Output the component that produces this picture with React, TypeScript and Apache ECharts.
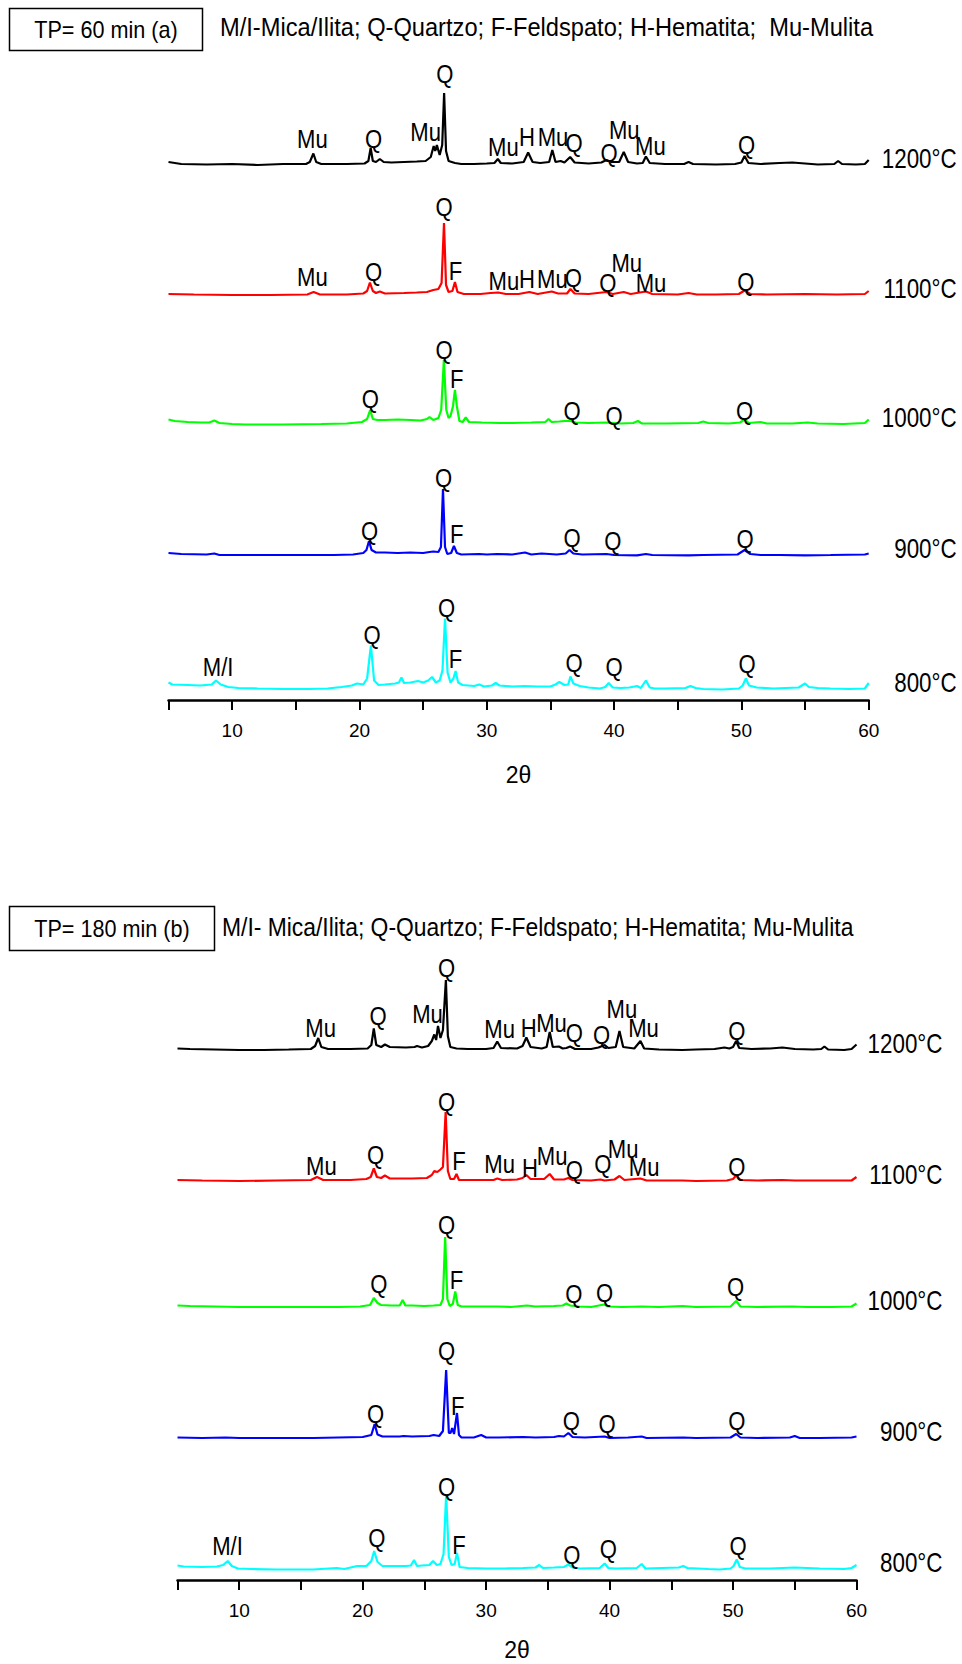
import React, { useEffect, useRef } from 'react';
import * as echarts from 'echarts';

type Pt = [number, number];
type Ann = [number, number, string];

const FONT = "'Liberation Sans', Arial, Helvetica, sans-serif";

const temperatures = ['1200°C', '1100°C', '1000°C', '900°C', '800°C'];
const colors = ['#000000', '#ff0000', '#00ff00', '#0000ff', '#00ffff'];
const xTickLabels = [10, 20, 30, 40, 50, 60];
const titleA = 'M/I-Mica/Ilita; Q-Quartzo; F-Feldspato; H-Hematita;  Mu-Mulita';
const titleB = 'M/I- Mica/Ilita; Q-Quartzo; F-Feldspato; H-Hematita; Mu-Mulita';
const boxA = 'TP= 60 min (a)';
const boxB = 'TP= 180 min (b)';
const axisName = '2θ';

// ---------- Panel (a): TP = 60 min, intensities above each trace's baseline ----------
const a1200: Pt[] = [
  [5, 3], [6, 1], [8, 0.5], [10, 1], [12, 0], [14, 1], [15.8, 1], [16.1, 3], [16.38, 11.5], [16.6, 3],
  [17, 1], [19, 1], [20.4, 1.5], [20.7, 4], [20.88, 17], [21.05, 4], [21.3, 3], [21.6, 6], [21.9, 3],
  [22.5, 2.5], [23.5, 3], [24.5, 3.5], [25.2, 4], [25.6, 8], [25.83, 19], [25.95, 14], [26.08, 20],
  [26.3, 10], [26.5, 20], [26.65, 72], [26.8, 14], [27.0, 4], [27.5, 2], [28, 1], [29, 1], [30, 1.5],
  [30.6, 2], [30.87, 6], [31.1, 2], [32, 1.5], [32.9, 3], [33.25, 12.5], [33.6, 3], [34.2, 2], [34.9, 3],
  [35.15, 15], [35.4, 3], [35.8, 4], [36.1, 2.5], [36.55, 8], [36.9, 2.5], [38, 1.5], [39, 2.5], [39.4, 5],
  [39.8, 3], [40.4, 3], [40.76, 13], [41.1, 3], [41.8, 1.5], [42.25, 2], [42.5, 8.5], [42.8, 2], [44, 1],
  [45.5, 1], [45.85, 3], [46.2, 1], [48, 0.5], [49.5, 1], [50.0, 2.5], [50.25, 9], [50.55, 2], [51.5, 1],
  [53, 2], [54, 2.5], [55, 1.5], [56, 0.5], [57.3, 1], [57.6, 4], [57.9, 1], [59, 0.5], [59.7, 1], [60, 5],
];
const a1100: Pt[] = [
  [5, 1], [7, 0.5], [10, 0], [13, 0], [15.9, 0.5], [16.4, 3], [16.9, 0.5], [19, 0.5], [20.3, 1.5], [20.6, 4],
  [20.82, 12.5], [21.05, 4], [21.3, 2], [21.6, 3.5], [22, 1.5], [23.5, 2], [24.5, 2.5], [25.3, 3], [25.8, 5],
  [26.2, 6], [26.45, 12], [26.64, 72], [26.8, 10], [27.0, 3], [27.3, 4], [27.5, 13], [27.7, 3], [28.2, 1],
  [29.5, 1], [30.3, 2], [30.9, 2.5], [31.5, 1], [32.5, 1], [33.35, 3], [34, 1], [35.1, 3.5], [35.6, 1.5],
  [36.3, 1.5], [36.57, 6], [36.9, 1.5], [38, 1], [39.4, 3], [39.9, 1], [40.76, 3], [41.3, 1], [42.5, 3.5],
  [43, 1], [45, 0.5], [45.85, 2], [46.5, 0.5], [48, 0.5], [49.8, 1], [50.25, 4.5], [50.7, 1], [52, 0.5],
  [55, 1], [57.5, 0.5], [59.7, 1], [60, 4],
];
const a1000: Pt[] = [
  [5, 4.5], [5.5, 3], [6.5, 2], [7.5, 1.5], [8.2, 1.5], [8.6, 3.5], [9.0, 1], [10, 0], [11, -0.5], [14, -0.5],
  [17, 0], [19, 0.5], [20.2, 2], [20.6, 5], [20.84, 14], [21.05, 5], [21.4, 4], [22, 4], [23, 4.5], [24, 4],
  [24.8, 3.5], [25.3, 5], [25.5, 7], [25.8, 4], [26.2, 6], [26.42, 14], [26.63, 64], [26.82, 14], [27.0, 6],
  [27.15, 8], [27.35, 18], [27.5, 34], [27.65, 18], [27.85, 3], [28.1, 2], [28.35, 6.5], [28.6, 2],
  [29.6, 1.5], [31, 1], [32, 1], [33.5, 1.5], [34.6, 2], [34.85, 5], [35.1, 2], [35.7, 2.5], [36.1, 3],
  [36.57, 3], [37, 1.5], [38, 1], [39.4, 1.5], [40.5, 0.5], [41.5, 1], [41.87, 3], [42.2, 0.5], [44, 0.5],
  [46.6, 1], [47.0, 2.5], [47.4, 1], [49, 0.5], [49.9, 1.5], [50.25, 4.5], [50.6, 1], [51.5, 2], [52, 0.5],
  [54, 0.5], [55.2, 1.5], [56, 0.5], [58, 0], [59.7, 1], [60, 4.5],
];
const a900: Pt[] = [
  [5, 2], [6, 1], [8, 0.5], [8.6, 1.5], [9, 0], [12, 0], [15, 0], [18, 0], [19.5, 0.5], [20.3, 2],
  [20.55, 5], [20.75, 14], [20.95, 5], [21.3, 2.5], [22, 2.5], [23, 2], [24, 2.5], [25, 2], [25.5, 3],
  [25.8, 3.5], [26.2, 3], [26.4, 8], [26.56, 66], [26.72, 8], [26.9, 1], [27.2, 2], [27.42, 9], [27.65, 2],
  [28, 0.5], [29.4, 1], [30, 0.5], [30.8, 1], [32, 0.5], [33, 2.5], [33.5, 0.5], [34.3, 1.5], [35.5, 0.5],
  [36.2, 1.5], [36.5, 5], [36.8, 1.5], [37.5, 0.5], [39.4, 1], [40, 0], [41.8, -0.3], [42.5, 1], [43, 0],
  [45.85, -0.3], [47, 0], [49.7, 0.5], [50.25, 5], [50.7, 1], [51.5, 0], [53, 0], [55, -0.3], [57, 0],
  [59.7, 0.5], [60, 1.5],
];
const a800: Pt[] = [
  [5, 6], [5.3, 4], [6.5, 3.5], [7.5, 3], [8.4, 4], [8.73, 8], [9.1, 4], [9.7, 1.5], [10.5, 0.5], [12, 0],
  [14, -0.5], [16, -0.5], [17.5, 0], [18.6, 1.5], [19.4, 3], [19.8, 5], [20.3, 4], [20.6, 10], [20.9, 43],
  [21.15, 8], [21.5, 3.5], [22, 4], [22.8, 5], [23.1, 6], [23.3, 11], [23.5, 5.5], [24, 6], [24.6, 7.5],
  [25, 6], [25.4, 8], [25.7, 11.5], [26.0, 6], [26.3, 8], [26.52, 18], [26.72, 70], [26.92, 16], [27.15, 6],
  [27.38, 10], [27.55, 17.5], [27.75, 6], [28.1, 3.5], [29, 2.5], [29.4, 4], [29.8, 2], [30.4, 3],
  [30.7, 5.5], [31, 3], [32, 2], [33, 2.5], [34, 2], [35, 2], [35.4, 4], [35.7, 6.5], [36.1, 3.5], [36.4, 4],
  [36.57, 12], [36.8, 5], [37.3, 2.5], [38, 1], [38.9, 0], [39.3, 1.5], [39.58, 5.5], [39.9, 1], [40.5, 0.5],
  [41.2, 1], [41.8, 2.5], [42.1, 0.5], [42.5, 8], [42.8, 1], [43.2, 0], [44, 0], [45.6, 0.5], [46, 2.5],
  [46.4, 0.5], [47, -0.5], [48.5, -1], [49.8, 0], [50.1, 3], [50.35, 10], [50.6, 3], [51.2, 1], [52.5, 0],
  [53.5, 0.5], [54.5, 1], [55, 5], [55.3, 1.5], [56, 0.5], [57, 0], [58.5, -0.5], [59.7, 0], [60, 5.5],
];

// ---------- Panel (b): TP = 180 min ----------
const b1200: Pt[] = [
  [5, 1.5], [6, 1], [8, 0.5], [10, 0], [12, 0], [14, 0.5], [15.8, 1], [16.15, 4], [16.4, 12], [16.65, 3],
  [17.2, 1], [19, 1], [20.4, 1.5], [20.7, 5], [20.9, 21.5], [21.1, 5], [21.5, 3], [21.8, 5.5], [22.2, 3],
  [23.5, 2.5], [24.2, 3], [24.4, 4], [24.8, 2.5], [25.3, 4], [25.6, 9], [25.8, 15.5], [25.95, 10], [26.1, 24],
  [26.3, 12], [26.5, 20], [26.74, 70], [26.9, 14], [27.1, 3], [27.6, 1.5], [28.5, 1], [30, 1], [30.6, 2],
  [30.9, 8.5], [31.2, 2], [32.5, 1.5], [32.95, 4], [33.26, 12.5], [33.6, 3], [34.5, 1.5], [34.9, 3],
  [35.15, 18], [35.4, 3], [35.9, 3.5], [36.2, 1.5], [36.5, 2], [36.8, 3.5], [37.2, 1], [38.5, 1], [39.1, 2.5],
  [39.4, 4], [39.6, 5], [39.9, 2], [40.5, 3], [40.8, 19], [41.1, 3], [42.0, 1.5], [42.5, 9], [42.8, 1.5],
  [44, 0.5], [45.9, 0], [47, 0.5], [48.5, 1], [49.3, 2.5], [49.7, 1.5], [50.0, 3], [50.25, 9], [50.5, 2],
  [51.5, 1], [53, 1.5], [54, 2.5], [55, 1], [56.5, 0.5], [57.15, 1], [57.4, 3.5], [57.7, 0.5], [59, 0],
  [59.6, 1], [60, 5.5],
];
const b1100: Pt[] = [
  [5, 1], [7, 0.5], [10, 0], [13, 0.5], [15.8, 1], [16.3, 4], [16.8, 1], [19, 1], [20.3, 2], [20.65, 4],
  [20.9, 12.5], [21.15, 4], [21.5, 3], [21.8, 5.5], [22.2, 2.5], [24, 2.5], [25.2, 3], [25.6, 6], [25.8, 10],
  [26.05, 9], [26.3, 11.5], [26.5, 14], [26.72, 69], [26.9, 10], [27.1, 2], [27.4, 2], [27.6, 7], [27.8, 1],
  [29, 1], [30.6, 1], [30.9, 2.5], [31.3, 1], [32.5, 1.5], [32.95, 3], [33.26, 6], [33.6, 2], [34.7, 2],
  [35.15, 7], [35.5, 1.5], [36.3, 1.5], [36.66, 3], [37, 1], [38.5, 0.5], [39.26, 1.5], [39.6, 0.5],
  [40.4, 1.5], [40.8, 5], [41.2, 1], [42.5, 2.5], [43, 0.5], [45, 0.5], [45.9, 0.5], [47, 0], [49.5, 0.5],
  [50.0, 2], [50.25, 5.5], [50.6, 1], [52, 0.5], [54, 1], [55, 0.5], [57.5, 0.5], [59.6, 0.5], [60, 4],
];
const b1000: Pt[] = [
  [5, 1.5], [6, 1], [8, 0.5], [10, 0], [13, 0], [16, 0], [18, 0], [19.8, 0.5], [20.6, 2], [20.9, 9],
  [21.2, 4], [21.5, 2], [22.3, 1.5], [23.0, 1.5], [23.24, 7], [23.45, 1.5], [24, 1.5], [25, 1], [25.75, 1.5],
  [26.3, 2], [26.5, 8], [26.68, 70], [26.86, 8], [27.05, 1], [27.3, 3], [27.5, 15.5], [27.7, 2], [28, 0.5],
  [29, 0.5], [30.9, 0.5], [32, 0], [33.3, 1.5], [34, 0.5], [35.5, 1], [36.2, 1.5], [36.5, 3.5], [36.8, 1.5],
  [37.5, 0.5], [38.5, 0], [39.55, 2.5], [39.9, 0.5], [41, 0], [42.6, 0.5], [44, 0], [45.9, 1], [47, 0],
  [49.8, 0.5], [50.25, 6], [50.6, 0.5], [52, 0], [54.8, 0.5], [56, 0], [58, 0], [59.6, 0.5], [60, 3.5],
];
const b900: Pt[] = [
  [5, 0.5], [7, 0], [8.9, 0.5], [10, 0], [13, 0], [16, 0], [18, 0.5], [20, 1], [20.7, 3], [20.97, 14],
  [21.2, 3.5], [21.6, 1.5], [23, 1.5], [23.3, 2], [24, 1.5], [25.4, 2], [25.75, 3], [26.2, 2], [26.5, 7],
  [26.76, 68], [26.98, 5], [27.12, 5], [27.25, 10], [27.4, 4], [27.64, 25], [27.8, 3], [28, 0.5], [29, 0.5],
  [29.6, 3], [30, 0.5], [31, 0.5], [33, 1], [34, 0.5], [35.5, 1], [35.9, 2], [36.3, 1.5], [36.66, 5],
  [37, 1], [38, 0.5], [39.6, 1.5], [40, 0], [41.5, 0.5], [42.6, 1.5], [43, 0], [45.96, 0.5], [47, 0],
  [49.8, 0.5], [50.25, 4], [50.6, 0.5], [52, 0], [54.6, 0.5], [55, 2], [55.4, 0], [57, 0], [59.6, 0.5],
  [60, 1.5],
];
const b800: Pt[] = [
  [5, 3.5], [5.5, 2.5], [7, 2], [8.2, 2.5], [8.7, 4], [9.07, 8], [9.4, 3], [9.9, 0.5], [11, 0], [13, -0.5],
  [16, -0.5], [17.9, 1], [18.5, 0], [19.55, 3], [20.3, 3], [20.7, 8], [20.93, 18], [21.2, 7], [21.6, 3],
  [22.5, 3], [23.5, 3], [23.9, 3.5], [24.16, 9], [24.4, 3], [24.8, 3.5], [25.4, 4], [25.7, 8], [26.0, 4],
  [26.3, 5], [26.55, 15], [26.76, 74], [26.98, 12], [27.2, 4], [27.45, 5], [27.64, 16], [27.85, 2],
  [28.5, 1], [30, 0.5], [31.5, 0.5], [33, 1], [34, 1.5], [34.3, 4], [34.6, 1], [35.5, 1.5], [36.3, 2],
  [36.66, 4.5], [37, 1.5], [37.6, 0.5], [39.2, 1], [39.6, 5.5], [39.9, 1], [40.5, 0.5], [42.2, 1],
  [42.6, 5], [42.9, 0.5], [45.6, 1.5], [45.96, 3], [46.3, 1], [48, 0], [48.9, -0.5], [49.8, 0.5], [50.05, 3],
  [50.3, 9.5], [50.55, 2], [51, 0.5], [53, 0.5], [55, 1.5], [57, 0.5], [59, 0], [59.6, 1], [60, 4],
];

// ---------- Phase labels: [2θ, height above the trace baseline, text] ----------
const annA1200: Ann[] = [
  [16.3, 26, 'Mu'], [21.1, 26, 'Q'], [25.2, 33, 'Mu'], [26.7, 91, 'Q'], [31.3, 18, 'Mu'], [33.15, 28, 'H'],
  [35.2, 28, 'Mu'], [36.85, 22, 'Q'], [39.6, 12, 'Q'], [40.8, 35, 'Mu'], [42.85, 19, 'Mu'], [50.4, 20, 'Q'],
];
const annA1100: Ann[] = [
  [16.3, 18, 'Mu'], [21.1, 23, 'Q'], [26.65, 88, 'Q'], [27.55, 24, 'F'], [31.35, 14, 'Mu'], [33.15, 16, 'H'],
  [35.15, 16, 'Mu'], [36.8, 17, 'Q'], [39.5, 12, 'Q'], [41.0, 32, 'Mu'], [42.9, 12, 'Mu'], [50.35, 13, 'Q'],
];
const annA1000: Ann[] = [
  [20.85, 25, 'Q'], [26.65, 74, 'Q'], [27.65, 45, 'F'], [36.7, 13, 'Q'], [40.0, 8.5, 'Q'], [50.25, 13, 'Q'],
];
const annA900: Ann[] = [
  [20.8, 24, 'Q'], [26.6, 77, 'Q'], [27.65, 21, 'F'], [36.7, 17, 'Q'], [39.9, 14, 'Q'], [50.3, 16, 'Q'],
];
const annA800: Ann[] = [
  [8.9, 22, 'M/I'], [21.0, 54, 'Q'], [26.85, 81, 'Q'], [27.55, 29.5, 'F'], [36.85, 25.5, 'Q'], [40.0, 22, 'Q'],
  [50.45, 24.4, 'Q'],
];
const annB1200: Ann[] = [
  [16.6, 22, 'Mu'], [21.25, 34.5, 'Q'], [25.25, 36, 'Mu'], [26.8, 82, 'Q'], [31.1, 21, 'Mu'], [33.45, 22, 'H'],
  [35.3, 27, 'Mu'], [37.15, 17.5, 'Q'], [39.35, 15, 'Q'], [41.0, 41, 'Mu'], [42.75, 22, 'Mu'], [50.3, 19, 'Q'],
];
const annB1100: Ann[] = [
  [16.65, 15, 'Mu'], [21.05, 26, 'Q'], [26.8, 79, 'Q'], [27.8, 20, 'F'], [31.1, 17, 'Mu'], [33.55, 13.5, 'H'],
  [35.35, 25, 'Mu'], [37.15, 11, 'Q'], [39.45, 17, 'Q'], [41.1, 32, 'Mu'], [42.8, 14, 'Mu'], [50.3, 14, 'Q'],
];
const annB1000: Ann[] = [
  [21.3, 23, 'Q'], [26.8, 82, 'Q'], [27.6, 27, 'F'], [37.1, 13, 'Q'], [39.6, 14, 'Q'], [50.2, 20.5, 'Q'],
];
const annB900: Ann[] = [
  [21.05, 24, 'Q'], [26.8, 87, 'Q'], [27.7, 32, 'F'], [36.9, 17, 'Q'], [39.8, 14, 'Q'], [50.3, 17, 'Q'],
];
const annB800: Ann[] = [
  [9.05, 23, 'M/I'], [21.15, 31, 'Q'], [26.8, 82, 'Q'], [27.8, 24, 'F'], [36.95, 14, 'Q'], [39.9, 20, 'Q'],
  [50.4, 23, 'Q'],
];

// vertical stacking offsets of the baselines (order: 1200, 1100, 1000, 900, 800)
const offsetsA = [535, 405, 276, 145, 11.5];
const offsetsB = [530, 399, 273, 142, 11];

const tracesA = [a1200, a1100, a1000, a900, a800];
const tracesB = [b1200, b1100, b1000, b900, b800];
const annsA = [annA1200, annA1100, annA1000, annA900, annA800];
const annsB = [annB1200, annB1100, annB1000, annB900, annB800];

function buildPanel(idx: number, traces: Pt[][], anns: Ann[][], offsets: number[], tempDx: number) {
  const series: any[] = [];
  traces.forEach((tr, i) => {
    series.push({
      type: 'line',
      xAxisIndex: idx,
      yAxisIndex: idx,
      data: tr.map(([x, y]) => [x, y + offsets[i]]),
      showSymbol: false,
      symbol: 'none',
      smooth: false,
      clip: false,
      silent: true,
      lineStyle: { color: colors[i], width: 2.2 },
      itemStyle: { color: colors[i] },
      z: 2,
    });
  });
  const annItems: { v: [number, number]; t: string }[] = [];
  anns.forEach((list, i) => list.forEach(([x, h, t]) => annItems.push({ v: [x, h + offsets[i]], t })));
  series.push({
    type: 'custom',
    xAxisIndex: idx,
    yAxisIndex: idx,
    clip: false,
    silent: true,
    encode: { x: 0, y: 1 },
    data: annItems.map((a) => a.v),
    z: 3,
    renderItem: (params: any, api: any) => {
      const p = api.coord([api.value(0), api.value(1)]);
      return {
        type: 'text',
        x: p[0],
        y: p[1],
        scaleX: 0.85,
        style: {
          text: annItems[params.dataIndex].t,
          fill: '#000',
          fontSize: 26,
          fontFamily: FONT,
          align: 'center',
          verticalAlign: 'middle',
          textAlign: 'center',
          textVerticalAlign: 'middle',
        },
      };
    },
  });
  series.push({
    type: 'custom',
    xAxisIndex: idx,
    yAxisIndex: idx,
    clip: false,
    silent: true,
    encode: { x: 0, y: 1 },
    data: temperatures.map((_, i) => [60, offsets[i] + 6]),
    z: 3,
    renderItem: (params: any, api: any) => {
      const p = api.coord([api.value(0), api.value(1)]);
      return {
        type: 'text',
        x: p[0] + tempDx,
        y: p[1],
        scaleX: 0.83,
        style: {
          text: temperatures[params.dataIndex],
          fill: '#000',
          fontSize: 27,
          fontFamily: FONT,
          align: 'right',
          verticalAlign: 'middle',
          textAlign: 'right',
          textVerticalAlign: 'middle',
        },
      };
    },
  });
  return series;
}

function xAxisFor(idx: number, nameGap: number) {
  return {
    type: 'value',
    gridIndex: idx,
    min: 5,
    max: 60,
    interval: 5,
    name: axisName,
    nameLocation: 'middle',
    nameGap,
    nameTextStyle: { color: '#000', fontSize: 23, fontFamily: FONT },
    axisLine: { show: true, lineStyle: { color: '#000', width: 2.5 } },
    axisTick: { show: true, inside: false, length: 10, lineStyle: { color: '#000', width: 2 } },
    splitLine: { show: false },
    axisLabel: {
      show: true,
      color: '#000',
      fontSize: 19,
      fontFamily: FONT,
      margin: 21,
      formatter: (v: number) => (xTickLabels.includes(v) ? String(v) : ''),
    },
  };
}

function yAxisFor(idx: number) {
  return { type: 'value', gridIndex: idx, min: 0, max: 640, show: false };
}

export default function App() {
  const ref = useRef<HTMLDivElement>(null);
  useEffect(() => {
    if (!ref.current) return;
    const chart = echarts.init(ref.current, undefined, { renderer: 'svg' });
    const option: any = {
      animation: false,
      backgroundColor: '#ffffff',
      grid: [
        { left: 168.5, right: 93.3, top: 60, height: 640 },
        { left: 177.5, right: 105.5, top: 940, height: 640 },
      ],
      xAxis: [xAxisFor(0, 63), xAxisFor(1, 58)],
      yAxis: [yAxisFor(0), yAxisFor(1)],
      series: [
        ...buildPanel(0, tracesA, annsA, offsetsA, 88),
        ...buildPanel(1, tracesB, annsB, offsetsB, 86),
      ],
      graphic: [
        { type: 'rect', shape: { x: 9.5, y: 8.5, width: 193, height: 42 }, style: { fill: 'none', stroke: '#000', lineWidth: 1.5 } },
        {
          type: 'text', x: 106, y: 30, scaleX: 0.94,
          style: { text: boxA, fill: '#000', fontSize: 23, fontFamily: FONT, align: 'center', verticalAlign: 'middle', textAlign: 'center', textVerticalAlign: 'middle' },
        },
        {
          type: 'text', x: 220, y: 27, scaleX: 0.91,
          style: { text: titleA, fill: '#000', fontSize: 26, fontFamily: FONT, align: 'left', verticalAlign: 'middle', textAlign: 'left', textVerticalAlign: 'middle' },
        },
        { type: 'rect', shape: { x: 9.5, y: 906.5, width: 205, height: 44 }, style: { fill: 'none', stroke: '#000', lineWidth: 1.5 } },
        {
          type: 'text', x: 112, y: 929, scaleX: 0.94,
          style: { text: boxB, fill: '#000', fontSize: 23, fontFamily: FONT, align: 'center', verticalAlign: 'middle', textAlign: 'center', textVerticalAlign: 'middle' },
        },
        {
          type: 'text', x: 222, y: 927, scaleX: 0.88,
          style: { text: titleB, fill: '#000', fontSize: 26, fontFamily: FONT, align: 'left', verticalAlign: 'middle', textAlign: 'left', textVerticalAlign: 'middle' },
        },
      ],
    };
    chart.setOption(option);
    return () => chart.dispose();
  }, []);
  return (
    <div
      ref={ref}
      style={{ position: 'absolute', left: 0, top: 0, width: 962, height: 1664, background: '#fff' }}
    />
  );
}
